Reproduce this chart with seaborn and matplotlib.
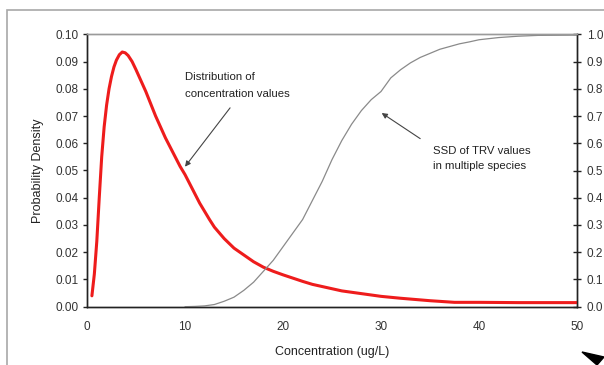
import numpy as np
import pandas as pd
import matplotlib
matplotlib.use("Agg")
import matplotlib.pyplot as plt
from matplotlib.patches import Polygon, Rectangle
import seaborn as sns

# Probability density of measured concentrations
conc_x = [0.5, 0.75, 1.0, 1.25, 1.5, 1.75, 2.0, 2.25, 2.5, 2.75, 3.0, 3.3, 3.6,
          3.9, 4.2, 4.6, 5.0, 5.5, 6.0, 6.5, 7.0, 7.5, 8.0, 8.5, 9.0, 9.5, 10.0,
          10.5, 11.0, 11.5, 12.0, 12.5, 13.0, 14.0, 15.0, 16.0, 17.0, 18.0,
          19.0, 20.0, 21.0, 22.0, 23.0, 24.0, 26.0, 28.0, 30.0, 32.0, 35.0,
          37.5, 40.0, 44.0, 50.0]
conc_density = [0.004, 0.012, 0.024, 0.040, 0.055, 0.066, 0.074, 0.080, 0.0845,
                0.088, 0.0905, 0.0925, 0.0935, 0.0932, 0.0922, 0.0900, 0.0870,
                0.0830, 0.0790, 0.0745, 0.0700, 0.0660, 0.0620, 0.0585, 0.0550,
                0.0515, 0.0485, 0.0450, 0.0415, 0.0380, 0.0350, 0.0320, 0.0292,
                0.0250, 0.0215, 0.0190, 0.0165, 0.0145, 0.0130, 0.0117, 0.0105,
                0.0093, 0.0082, 0.0074, 0.0058, 0.0048, 0.0038, 0.0031, 0.0022,
                0.0016, 0.0016, 0.0015, 0.0015]

# Species sensitivity distribution (cumulative) of TRV values
ssd_x = [10, 11, 12, 13, 14, 15, 16, 17, 18, 19, 20, 21, 22, 23, 24, 25, 26, 27,
         28, 29, 30, 31, 32, 33, 34, 35, 36, 37, 38, 39, 40, 42, 44, 46, 50]
ssd_cum = [0.0, 0.001, 0.003, 0.008, 0.02, 0.035, 0.06, 0.09, 0.13, 0.17, 0.22,
           0.27, 0.32, 0.39, 0.46, 0.54, 0.61, 0.67, 0.72, 0.76, 0.79, 0.84,
           0.87, 0.895, 0.915, 0.93, 0.945, 0.955, 0.965, 0.972, 0.98, 0.988,
           0.993, 0.996, 0.997]

left_ticks = [0.00, 0.01, 0.02, 0.03, 0.04, 0.05, 0.06, 0.07, 0.08, 0.09, 0.10]
right_ticks = [0.0, 0.1, 0.2, 0.3, 0.4, 0.5, 0.6, 0.7, 0.8, 0.9, 1.0]
x_ticks = [0, 10, 20, 30, 40, 50]

sns.set_theme(style="white")
plt.rcParams["font.family"] = ["Liberation Sans", "DejaVu Sans"]

fig = plt.figure(figsize=(6.04, 3.65), dpi=100)
fig.patch.set_facecolor("white")

# outer frame of the chart object
fig.patches.append(Rectangle((7.5 / 604, -0.1), 1.2, (365 - 9.5) / 365 + 0.1,
                             transform=fig.transFigure, fill=False,
                             edgecolor="#a8a8a8", linewidth=1.2))

ax = fig.add_axes([87 / 604, (365 - 306.7) / 365, 490 / 604, 272.4 / 365])
ax2 = ax.twinx()

dens = pd.DataFrame({"x": conc_x, "y": conc_density})
cum = pd.DataFrame({"x": ssd_x, "y": ssd_cum})

sns.lineplot(data=dens, x="x", y="y", ax=ax, color="#ee1c1c", linewidth=2.2,
             zorder=3)
sns.lineplot(data=cum, x="x", y="y", ax=ax2, color="#8a8a8a", linewidth=0.9)

ax.set_xlim(0, 50)
ax.set_ylim(0, 0.10)
ax2.set_ylim(0, 1.0)
ax.set_xticks(x_ticks)
ax.set_xticklabels([str(t) for t in x_ticks])
ax.set_yticks(left_ticks)
ax.set_yticklabels([f"{t:.2f}" for t in left_ticks])
ax2.set_yticks(right_ticks)
ax2.set_yticklabels([f"{t:.1f}" for t in right_ticks])

ax.set_xlabel("Concentration (ug/L)", fontsize=9, color="#222222", labelpad=10)
ax.set_ylabel("Probability Density", fontsize=9, color="#222222", labelpad=8)
ax2.set_ylabel("")

for a in (ax, ax2):
    for side in ("left", "bottom", "right"):
        a.spines[side].set_color("#222222")
        a.spines[side].set_linewidth(1.0)
    a.spines["top"].set_color("#9a9a9a")
    a.spines["top"].set_linewidth(1.0)
    a.set_facecolor("none")

ax.tick_params(axis="y", direction="out", length=3, width=1, color="#222222",
               labelsize=8.5, labelcolor="#333333", pad=3)
ax.tick_params(axis="x", direction="out", length=3, width=1, color="#222222",
               labelsize=8.5, labelcolor="#333333", pad=7)
ax2.tick_params(axis="y", direction="inout", length=6, width=1, color="#222222",
                labelsize=8.5, labelcolor="#333333", pad=4)

arrow_style = dict(arrowstyle="-|>", color="#444444", lw=0.8,
                   mutation_scale=8, shrinkA=0, shrinkB=0)

ax.text(10.0, 0.0811, "Distribution of\nconcentration values", fontsize=8.2,
        color="#222222", ha="left", va="center", linespacing=1.9)
ax.annotate("", xy=(10.0, 0.0514), xytext=(14.6, 0.073), arrowprops=arrow_style)

ax.text(35.3, 0.0543, "SSD of TRV values\nin multiple species", fontsize=8.2,
        color="#222222", ha="left", va="center", linespacing=1.6)
ax.annotate("", xy=(30.07, 0.0711), xytext=(34.0, 0.0617),
            arrowprops=arrow_style)

# page marker in the lower-right corner
fig.patches.append(Polygon([(582 / 604, 1 - 352 / 365), (604 / 604, 1 - 357 / 365),
                            (597 / 604, 1 - 365 / 365)], closed=True,
                           transform=fig.transFigure, facecolor="black",
                           edgecolor="black"))

fig.savefig("out.png", dpi=100, facecolor="white")
